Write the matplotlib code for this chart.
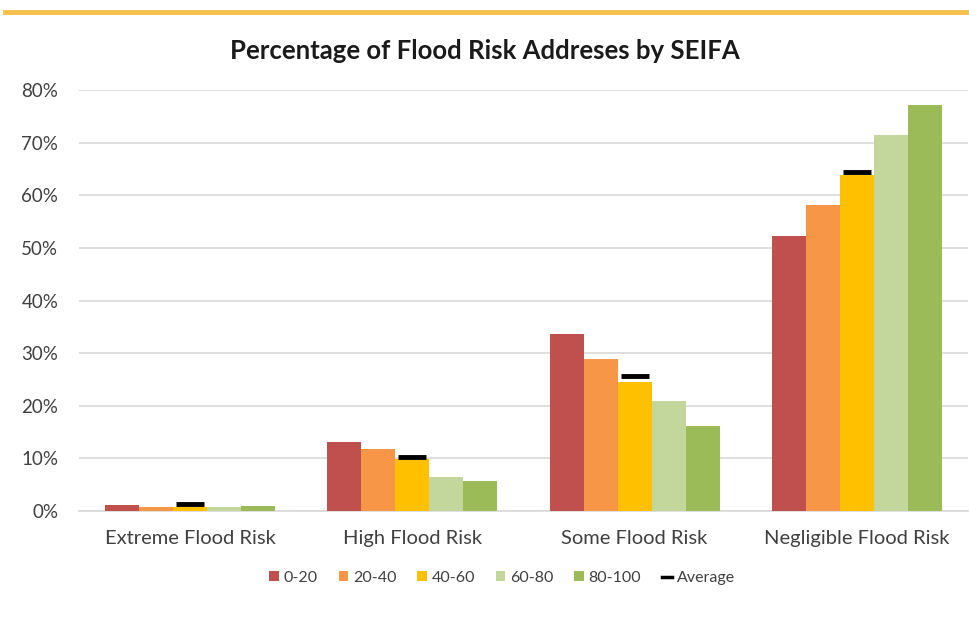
import matplotlib
matplotlib.use("Agg")
import matplotlib.pyplot as plt
import numpy as np
from matplotlib.lines import Line2D
from matplotlib.patches import Patch

categories = ["Extreme Flood Risk", "High Flood Risk", "Some Flood Risk", "Negligible Flood Risk"]
series_names = ["0-20", "20-40", "40-60", "60-80", "80-100"]
s_0_20 = [1.2, 13.1, 33.6, 52.3]
s_20_40 = [0.8, 11.8, 28.9, 58.2]
s_40_60 = [0.8, 9.8, 24.5, 63.9]
s_60_80 = [0.8, 6.5, 20.9, 71.5]
s_80_100 = [1.0, 5.7, 16.2, 77.2]
average = [1.3, 10.2, 25.6, 64.5]
y_ticks = [0, 10, 20, 30, 40, 50, 60, 70, 80]
y_tick_labels = ["0%", "10%", "20%", "30%", "40%", "50%", "60%", "70%", "80%"]

colors = ["#C0504D", "#F79646", "#FFC000", "#C3D69B", "#9BBB59"]
plt.rcParams['font.family'] = ['Lato', 'DejaVu Sans']

fig = plt.figure(figsize=(9.69, 6.19), dpi=100)
fig.patch.set_facecolor("white")
ax = fig.add_axes([79/969, 1 - 511/619, 889/969, (511 - 90)/619])

x = np.arange(len(categories))
bw = 0.153
series = [s_0_20, s_20_40, s_40_60, s_60_80, s_80_100]
for i, (vals, c) in enumerate(zip(series, colors)):
    ax.bar(x + (i - 2) * bw, vals, width=bw, color=c, zorder=3, label=series_names[i])

ax.scatter(x, average, marker="_", s=20**2, linewidths=3.5, color="black", zorder=4)

ax.set_ylim(0, 80)
ax.set_xlim(-0.5, len(categories) - 0.5)
ax.set_yticks(y_ticks)
ax.set_yticklabels(y_tick_labels, fontsize=13.5, color="#404040")
ax.set_xticks(x)
ax.set_xticklabels(categories, fontsize=14.5, color="#404040")
ax.tick_params(axis="both", length=0)
ax.tick_params(axis="x", pad=14)
ax.tick_params(axis="y", pad=15)
ax.grid(axis="y", color="#D9D9D9", linewidth=1.2, zorder=0)
for s in ["top", "right", "left"]:
    ax.spines[s].set_visible(False)
ax.spines["bottom"].set_color("#D9D9D9")
ax.spines["bottom"].set_linewidth(1.2)

fig.text(0.5, 1 - 51/619, "Percentage of Flood Risk Addreses by SEIFA",
         ha="center", va="center", fontsize=18.5, fontweight="bold", color="#1a1a1a")

# top golden band
fig.add_artist(Line2D([5/969, 1], [1 - 12/619, 1 - 12/619], color="#F5C04A", linewidth=3.5))

handles = [Patch(facecolor=c, edgecolor="none") for c in colors]
handles.append(Line2D([], [], color="black", linewidth=2.5))
labels = series_names + ["Average"]
fig.legend(handles, labels, loc="center", bbox_to_anchor=(0.518, 1 - 578/619), ncol=6,
           frameon=False, fontsize=11.5, handlelength=0.6, handleheight=0.6,
           handletextpad=0.3, columnspacing=1.3, labelcolor="#404040")

fig.savefig("out.png", dpi=100, facecolor="white")
